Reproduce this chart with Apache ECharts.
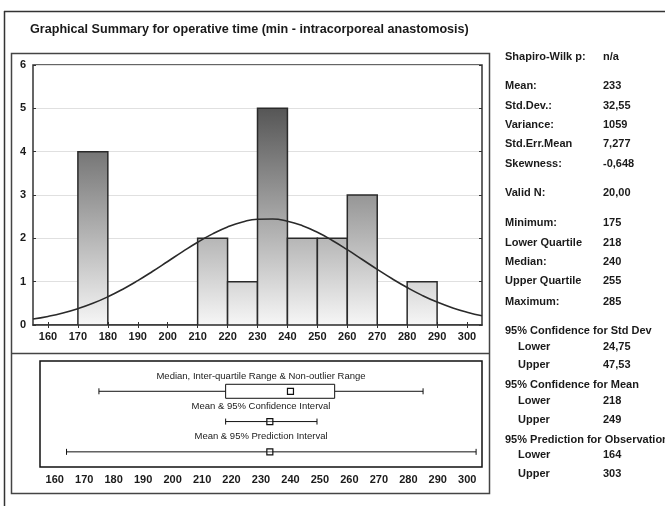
<!DOCTYPE html>
<html><head><meta charset="utf-8">
<script src="https://cdn.jsdelivr.net/npm/echarts@6/dist/echarts.min.js"></script>
<style>html,body{margin:0;padding:0;background:#fff}#c{width:665px;height:506px}</style>
</head><body><div id="c"></div><script>
// ---- data ----
const titleText = "Graphical Summary for operative time (min - intracorporeal anastomosis)";
const binStarts = [170, 210, 220, 230, 240, 250, 260, 280];
const binEnds   = [180, 220, 230, 240, 250, 260, 270, 290];
const binCounts = [4, 2, 1, 5, 2, 2, 3, 1];
const xTickValues = [160, 170, 180, 190, 200, 210, 220, 230, 240, 250, 260, 270, 280, 290, 300];
const curveX = [155,160,165,170,175,180,185,190,195,200,205,210,215,220,225,230,235,240,245,250,255,260,265,270,275,280,285,290,295,300,305];
const curveY = [0.139,0.198,0.276,0.377,0.501,0.651,0.826,1.024,1.240,1.466,1.693,1.910,2.103,2.263,2.378,2.441,2.446,2.395,2.290,2.139,1.951,1.738,1.512,1.285,1.066,0.864,0.684,0.529,0.400,0.295,0.212];
const boxStats = [175, 218, 240, 255, 285];   // min, Q1, median, Q3, max
const ciStats  = [218, 233, 249];             // lower, mean, upper
const piStats  = [164, 233, 303];             // lower, mean, upper
const rowLabels = ["Median, Inter-quartile Range & Non-outlier Range", "Mean & 95% Confidence Interval", "Mean & 95% Prediction Interval"];
const statLabels = ["Shapiro-Wilk p:", "Mean:", "Std.Dev.:", "Variance:", "Std.Err.Mean", "Skewness:", "Valid N:", "Minimum:", "Lower Quartile", "Median:", "Upper Quartile", "Maximum:", "95% Confidence for Std Dev", "Lower", "Upper", "95% Confidence for Mean", "Lower", "Upper", "95% Prediction for Observation", "Lower", "Upper"];
const statValues = ["n/a", "233", "32,55", "1059", "7,277", "-0,648", "20,00", "175", "218", "240", "255", "285", "", "24,75", "47,53", "", "218", "249", "", "164", "303"];

// ---- layout (not data) ----
const statY = [57, 86, 106, 125, 144, 164, 193, 223, 243, 262, 281, 302, 331, 347, 365, 385, 401, 420, 440, 455, 474];
const statIndent = [0,0,0,0,0,0,0,0,0,0,0,0,0,1,1,0,1,1,0,1,1];

const chart = echarts.init(document.getElementById('c'), null, {renderer: 'canvas'});
const FONT = '"Liberation Sans", Arial, sans-serif';
const ink = '#1a1a1a';

const graphics = [
  {type: 'line', shape: {x1: 4.5, y1: 11, x2: 4.5, y2: 506}, style: {stroke: '#333', lineWidth: 1.5}},
  {type: 'line', shape: {x1: 4, y1: 11.5, x2: 665, y2: 11.5}, style: {stroke: '#333', lineWidth: 1.5}},
  {type: 'rect', shape: {x: 11.5, y: 53.5, width: 478, height: 440}, style: {fill: 'none', stroke: '#444', lineWidth: 1.5}},
  {type: 'line', shape: {x1: 11.5, y1: 353.5, x2: 489.5, y2: 353.5}, style: {stroke: '#444', lineWidth: 1.5}},
  {type: 'text', x: 30, y: 30, style: {text: titleText, font: 'bold 12.6px ' + FONT, fill: ink, textVerticalAlign: 'middle'}}
];
statLabels.forEach((t, i) => {
  graphics.push({type: 'text', x: statIndent[i] ? 518 : 505, y: statY[i], style: {text: t, font: 'bold 11px ' + FONT, fill: ink, textVerticalAlign: 'middle'}});
  if (statValues[i]) graphics.push({type: 'text', x: 603, y: statY[i], style: {text: statValues[i], font: 'bold 11px ' + FONT, fill: ink, textVerticalAlign: 'middle'}});
});

const labelStyle = {color: ink, fontWeight: 'bold', fontSize: 11, fontFamily: FONT};

function histRender(params, api) {
  const p0 = api.coord([api.value(0), api.value(2)]);
  const p1 = api.coord([api.value(1), 0]);
  const yTop = api.coord([160, 6])[1], yBot = api.coord([160, 0])[1];
  const grad = new echarts.graphic.LinearGradient(0, yTop, 0, yBot, [
    {offset: 0, color: '#363636'}, {offset: 1, color: '#f6f6f6'}], true);
  return {type: 'rect', shape: {x: p0[0], y: p0[1], width: p1[0] - p0[0], height: p1[1] - p0[1]},
    style: {fill: grad, stroke: '#2a2a2a', lineWidth: 1.5}};
}

function cap(p, h) { return {type: 'line', shape: {x1: p[0], y1: p[1] - h, x2: p[0], y2: p[1] + h}, style: {stroke: '#111', lineWidth: 1}}; }
function seg(a, b) { return {type: 'line', shape: {x1: a[0], y1: a[1], x2: b[0], y2: b[1]}, style: {stroke: '#111', lineWidth: 1}}; }
function sq(p, s, fill) { return {type: 'rect', shape: {x: p[0] - s / 2, y: p[1] - s / 2, width: s, height: s}, style: {fill: fill, stroke: '#111', lineWidth: 1.2}}; }

function boxRender(params, api) {
  const row = api.value(0);
  const pts = [1, 2, 3, 4, 5].map(k => api.coord([api.value(k), row]));
  const h = 7;
  return {type: 'group', children: [
    seg(pts[0], pts[1]), seg(pts[3], pts[4]), cap(pts[0], 3), cap(pts[4], 3),
    {type: 'rect', shape: {x: pts[1][0], y: pts[1][1] - h, width: pts[3][0] - pts[1][0], height: 2 * h}, style: {fill: '#fff', stroke: '#111', lineWidth: 1}},
    sq(pts[2], 6, '#fff')
  ]};
}
function intRender(params, api) {
  const row = api.value(0);
  const pts = [1, 2, 3].map(k => api.coord([api.value(k), row]));
  return {type: 'group', children: [
    seg(pts[0], pts[2]), cap(pts[0], 3), cap(pts[2], 3), sq(pts[1], 6, 'rgba(255,255,255,0.3)')
  ]};
}
function textRender(params, api) {
  const p = api.coord([api.value(0), api.value(1)]);
  return {type: 'text', x: p[0], y: p[1], style: {text: rowLabels[params.dataIndex], font: '9.5px ' + FONT, fill: ink, textAlign: 'center', textVerticalAlign: 'middle'}};
}

const xMin = 155, xMax = 305;
const option = {
  animation: false,
  backgroundColor: '#fff',
  graphic: graphics,
  grid: [
    {left: 33, top: 65, right: 183, bottom: 181, show: true, borderColor: '#333', borderWidth: 1.5, containLabel: false},
    {left: 40, top: 361, right: 183, bottom: 39, show: true, borderColor: '#111', borderWidth: 1.5, containLabel: false}
  ],
  xAxis: [
    {type: 'value', gridIndex: 0, min: xMin, max: xMax,
     axisLine: {show: true, onZero: false, lineStyle: {color: '#333', width: 1.5}},
     axisTick: {show: true, inside: true, length: 3, customValues: xTickValues, lineStyle: {color: '#333'}},
     axisLabel: {show: true, margin: 6, customValues: xTickValues, ...labelStyle},
     splitLine: {show: false}},
    {type: 'value', gridIndex: 0, position: 'top', min: xMin, max: xMax,
     axisLine: {show: false}, axisTick: {show: true, inside: true, length: 3, customValues: xTickValues, lineStyle: {color: '#333'}},
     axisLabel: {show: false}, splitLine: {show: false}},
    {type: 'value', gridIndex: 1, min: xMin, max: xMax,
     axisLine: {show: false}, axisTick: {show: false},
     axisLabel: {show: true, margin: 7, customValues: xTickValues, ...labelStyle},
     splitLine: {show: false}}
  ],
  yAxis: [
    {type: 'value', gridIndex: 0, min: 0, max: 6, interval: 1,
     axisLine: {show: false}, axisTick: {show: true, inside: true, length: 3, lineStyle: {color: '#333'}},
     axisLabel: {margin: 7, ...labelStyle},
     splitLine: {show: true, lineStyle: {color: '#e0e0e0', width: 1}}},
    {type: 'value', gridIndex: 0, position: 'right', min: 0, max: 6, interval: 1,
     axisLine: {show: false}, axisTick: {show: true, inside: true, length: 3, lineStyle: {color: '#333'}},
     axisLabel: {show: false}, splitLine: {show: false}},
    {type: 'value', gridIndex: 1, min: 0, max: 7, inverse: true, show: false}
  ],
  series: [
    {type: 'custom', xAxisIndex: 0, yAxisIndex: 0, renderItem: histRender, clip: true,
     encode: {x: [0, 1], y: 2},
     data: binStarts.map((s, i) => [s, binEnds[i], binCounts[i]])},
    {type: 'line', xAxisIndex: 0, yAxisIndex: 0, smooth: true, showSymbol: false, symbol: 'none',
     lineStyle: {color: '#2a2a2a', width: 1.6}, z: 5,
     data: curveX.map((x, i) => [x, curveY[i]])},
    {type: 'custom', xAxisIndex: 2, yAxisIndex: 2, renderItem: boxRender,
     encode: {x: [1, 2, 3, 4, 5], y: 0},
     data: [[2].concat(boxStats)]},
    {type: 'custom', xAxisIndex: 2, yAxisIndex: 2, renderItem: intRender,
     encode: {x: [1, 2, 3], y: 0},
     data: [[4].concat(ciStats), [6].concat(piStats)]},
    {type: 'custom', xAxisIndex: 2, yAxisIndex: 2, renderItem: textRender,
     encode: {x: 0, y: 1},
     data: rowLabels.map((t, i) => [(xMin + xMax) / 2, 1 + 2 * i])}
  ]
};
chart.setOption(option);
</script></body></html>
